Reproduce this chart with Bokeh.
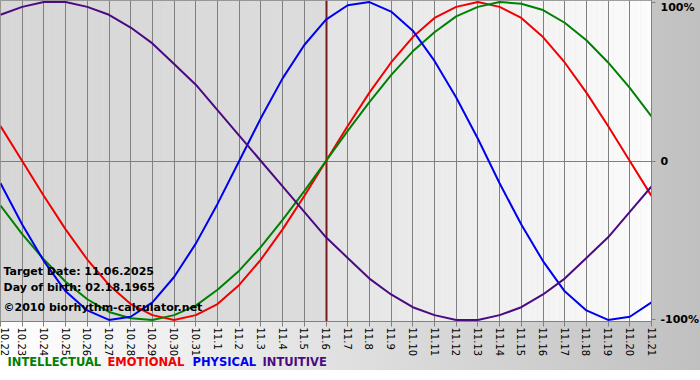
import numpy as np
from bokeh.plotting import figure
from bokeh.layouts import column
from bokeh.models import FixedTicker, Label, Range1d
from bokeh.core.properties import value
from bokeh.embed import file_html
from bokeh.resources import INLINE

# ---------------- data ----------------
day_labels = ["10.22", "10.23", "10.24", "10.25", "10.26", "10.27", "10.28", "10.29",
              "10.30", "10.31", "11.1", "11.2", "11.3", "11.4", "11.5", "11.6", "11.7",
              "11.8", "11.9", "11.10", "11.11", "11.12", "11.13", "11.14", "11.15",
              "11.16", "11.17", "11.18", "11.19", "11.20", "11.21"]
target_label = "11.6"

intellectual = [-0.28, -0.46, -0.62, -0.76, -0.87, -0.95, -0.99, -1.00, -0.97, -0.91,
                -0.81, -0.69, -0.54, -0.37, -0.19, 0.00, 0.19, 0.37, 0.54, 0.69,
                0.81, 0.91, 0.97, 1.00, 0.99, 0.95, 0.87, 0.76, 0.62, 0.46, 0.28]
emotional = [0.22, 0.00, -0.22, -0.43, -0.62, -0.78, -0.90, -0.97, -1.00, -0.97,
             -0.90, -0.78, -0.62, -0.43, -0.22, 0.00, 0.22, 0.43, 0.62, 0.78,
             0.90, 0.97, 1.00, 0.97, 0.90, 0.78, 0.62, 0.43, 0.22, 0.00, -0.22]
physical = [-0.14, -0.40, -0.63, -0.82, -0.94, -1.00, -0.98, -0.89, -0.73, -0.52,
            -0.27, 0.00, 0.27, 0.52, 0.73, 0.89, 0.98, 1.00, 0.94, 0.82,
            0.63, 0.40, 0.14, -0.14, -0.40, -0.63, -0.82, -0.94, -1.00, -0.98, -0.89]
intuitive = [0.92, 0.97, 1.00, 1.00, 0.97, 0.92, 0.84, 0.74, 0.61, 0.48,
             0.32, 0.16, 0.00, -0.16, -0.32, -0.48, -0.61, -0.74, -0.84, -0.92,
             -0.97, -1.00, -1.00, -0.97, -0.92, -0.84, -0.74, -0.61, -0.48, -0.32, -0.16]

y_ticks = [-1, 0, 1]
y_tick_labels = ["-100%", "0", "100%"]

series_names = ["INTELLECTUAL", "EMOTIONAL", "PHYSICAL", "INTUITIVE"]
info_lines = ["Target Date: 11.06.2025", "Day of birth: 02.18.1965",
              "\u00a92010 biorhythm-calculator.net"]

# ---------------- styling ----------------
colors = {"INTELLECTUAL": "#008000", "EMOTIONAL": "#f00000",
          "PHYSICAL": "#0000f0", "INTUITIVE": "#4b0a82"}
FONT = "DejaVu Sans"
GRID = "#808080"
OUTER_BG = {"background": "linear-gradient(to right, #ffffff, #c0c0c0)"}

x = list(range(len(day_labels)))
tx = day_labels.index(target_label)
x0, x1 = x[0], x[-1]
y0, y1 = -1.01, 1.01

p = figure(frame_width=651, frame_height=321,
           x_range=Range1d(x0, x1), y_range=Range1d(y0, y1),
           output_backend="svg", toolbar_location=None, y_axis_location="right",
           min_border_left=0, min_border_top=0, min_border_right=49, min_border_bottom=35)
p.border_fill_alpha = 0
p.background_fill_color = "#e0e0e0"
p.styles = OUTER_BG
p.outline_line_color = GRID

# plot-area background: darker before target date, light gradient after it
n = 60
lx = np.linspace(x0, tx, n + 1)
rx = np.linspace(tx, x1, n + 1)
lc = ["#%02x%02x%02x" % (g, g, g) for g in np.linspace(215, 221, n).astype(int)]
rc = ["#%02x%02x%02x" % (g, g, g) for g in np.linspace(228, 252, n).astype(int)]
p.quad(left=np.concatenate([lx[:-1], rx[:-1]]), right=np.concatenate([lx[1:], rx[1:]]),
       bottom=y0, top=y1, fill_color=lc + rc, line_color=None, level="image")

# axes
p.xaxis.ticker = FixedTicker(ticks=x)
p.xaxis.major_label_overrides = {i: s for i, s in zip(x, day_labels)}
p.xaxis.major_label_orientation = -np.pi / 2
p.xaxis.major_label_text_font = FONT
p.xaxis.major_label_text_font_size = "10px"
p.xaxis.major_label_text_color = "black"
p.xaxis.major_label_standoff = 1
p.xaxis.major_tick_out = 5
p.xaxis.major_tick_in = 0
p.xaxis.minor_tick_line_color = None
p.xaxis.axis_line_color = GRID
p.xaxis.major_tick_line_color = GRID

p.yaxis.ticker = FixedTicker(ticks=y_ticks)
# the top label sits just below its tick (as in the reference), hence the leading newline
p.yaxis.major_label_overrides = {t: (("\n" + s) if t == y_ticks[-1] else s)
                                 for t, s in zip(y_ticks, y_tick_labels)}
p.yaxis.major_label_text_font = FONT
p.yaxis.major_label_text_font_style = "bold"
p.yaxis.major_label_text_font_size = "11px"
p.yaxis.major_label_text_line_height = 0.05
p.yaxis.major_label_text_color = "black"
p.yaxis.major_label_standoff = 5
p.yaxis.major_tick_out = 4
p.yaxis.major_tick_in = 0
p.yaxis.minor_tick_line_color = None
p.yaxis.axis_line_color = GRID
p.yaxis.major_tick_line_color = GRID

p.xgrid.grid_line_color = GRID
p.xgrid.grid_line_alpha = 1
p.ygrid.ticker = FixedTicker(ticks=[0])
p.ygrid.grid_line_color = GRID
p.ygrid.grid_line_alpha = 1

# target date line
p.vspan(x=[tx], line_color="#7a1a1a", line_width=2)

# curves
for name, vals in [("EMOTIONAL", emotional), ("INTELLECTUAL", intellectual),
                   ("PHYSICAL", physical), ("INTUITIVE", intuitive)]:
    p.line(x, vals, line_color=colors[name], line_width=2)

# info lines
for txt, yy in zip(info_lines, [50, 34, 14]):
    p.add_layout(Label(x=3, y=yy, x_units="screen", y_units="screen", text=txt,
                       text_font=FONT, text_font_style="bold", text_font_size="11px",
                       text_baseline="middle", text_color="black"))

# legend strip below the chart (frame aligned with the chart's frame)
leg = figure(frame_width=651, frame_height=14, x_range=Range1d(0, 651), y_range=Range1d(0, 14),
             output_backend="svg", toolbar_location=None,
             min_border_left=0, min_border_right=49, min_border_top=0, min_border_bottom=0,
             margin=(-3, 0, 0, 0))
leg.axis.visible = False
leg.grid.visible = False
leg.outline_line_color = None
leg.background_fill_alpha = 0
leg.border_fill_alpha = 0
leg.styles = OUTER_BG
leg.text(x=[7, 107, 192, 262], y=[8.5] * 4, text=series_names,
         text_color=[colors[s] for s in series_names],
         text_font=value(FONT), text_font_style="bold", text_font_size="11.5px",
         text_baseline="middle", text_align="left")

layout = column(p, leg, spacing=0)
open("out.html", "w").write(file_html(layout, INLINE))
